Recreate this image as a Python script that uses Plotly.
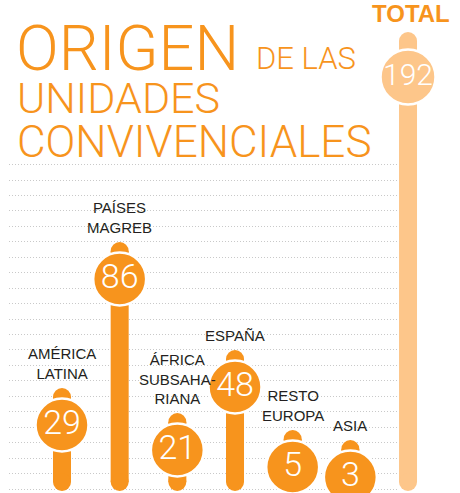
import plotly.graph_objects as go

# ---------------- data ----------------
categories = ["AMÉRICA<br>LATINA", "PAÍSES<br>MAGREB", "ÁFRICA<br>SUBSAHA-<br>RIANA",
              "ESPAÑA", "RESTO<br>EUROPA", "ASIA", "TOTAL"]
values = [29, 86, 21, 48, 5, 3, 192]
# stem heights as drawn in the infographic (chart units, not proportional to values)
stem_heights = [102, 248, 77, 140, 60, 50, 458]

# ---------------- styles ----------------
W, H = 460, 493
ORANGE = "#F7941D"
LIGHT = "#FDC68A"
TEXT = "#231F20"
colors = [ORANGE] * 6 + [LIGHT]
CAP_R = 9            # half stem width (px)
BASE = 8             # centre of bottom cap above baseline
circle_offset = [37] * 6 + [45]
circle_size = [53] * 6 + [55]
num_size = [34] * 6 + [30]

def px(x):
    return x / W

def py(y):
    return 1 - y / H

fig = go.Figure()

# subplot 1: dotted background grid only
fig.add_trace(go.Scatter(x=[0], y=[0], mode="markers", marker=dict(opacity=0),
                         hoverinfo="skip", showlegend=False, xaxis="x", yaxis="y"))

# subplot 2: stems, caps, circles
fig.add_trace(go.Bar(
    x=categories, y=[h - CAP_R - BASE for h in stem_heights], base=BASE,
    width=0.312, marker=dict(color=colors, line=dict(width=0)),
    hoverinfo="skip", showlegend=False, xaxis="x2", yaxis="y2"))

fig.add_trace(go.Scatter(
    x=categories + categories,
    y=[h - CAP_R for h in stem_heights] + [BASE] * len(stem_heights),
    mode="markers", marker=dict(size=2 * CAP_R, color=colors + colors, opacity=1,
                                line=dict(width=0)),
    hoverinfo="skip", showlegend=False, xaxis="x2", yaxis="y2"))

fig.add_trace(go.Scatter(
    x=categories, y=[h - o for h, o in zip(stem_heights, circle_offset)],
    mode="markers+text", text=[str(v) for v in values], textposition="middle center",
    textfont=dict(family="Roboto", size=num_size, color="white", weight=300),
    marker=dict(size=circle_size, color=colors, opacity=1,
                line=dict(color="white", width=2.5)),
    hoverinfo="skip", showlegend=False, xaxis="x2", yaxis="y2"))

annotations = []
# category labels above the stems
for cat, h in zip(categories[:-1], stem_heights[:-1]):
    annotations.append(dict(
        x=cat, y=h, xref="x2", yref="y2", text=cat, showarrow=False,
        xanchor="center", yanchor="bottom", yshift=4, align="center",
        font=dict(family="Liberation Sans, Arial", size=15, color=TEXT)))
annotations.append(dict(
    x=categories[-1], y=stem_heights[-1], xref="x2", yref="y2", text="TOTAL",
    showarrow=False, xanchor="center", yanchor="bottom", yshift=3, xshift=3,
    font=dict(family="Liberation Sans, Arial", size=24, color=ORANGE, weight="bold")))

# title
title_font = "Roboto"
for txt, x, y, size in [("ORIGEN", 14, 48, 63), ("DE LAS", 254, 59, 31),
                        ("UNIDADES", 15, 98, 43), ("CONVIVENCIALES", 15, 142, 44)]:
    annotations.append(dict(
        x=px(x), y=py(y), xref="paper", yref="paper", text=txt, showarrow=False,
        xanchor="left", yanchor="middle",
        font=dict(family=title_font, size=size, color=ORANGE, weight=300)))

# grid positions (every ~15.45 px above baseline, below the title block)
grid_vals = [1 + 15.45 * k for k in range(22)]
spacing = 57.67
xr = [-62 / spacing, (W - 62) / spacing]

fig.update_layout(
    width=W, height=H, margin=dict(l=0, r=0, t=0, b=0),
    paper_bgcolor="white", plot_bgcolor="rgba(0,0,0,0)",
    barmode="overlay", showlegend=False,
    annotations=annotations,
    xaxis=dict(domain=[px(9), px(399)], range=[0, 1], visible=False, fixedrange=True),
    yaxis=dict(domain=[0, 1], range=[-3, 490], tickvals=grid_vals, showticklabels=False,
               showgrid=True, griddash="1px,2px", gridcolor="#c9c9c9", gridwidth=1,
               zeroline=False, showline=False, ticks="", fixedrange=True),
    xaxis2=dict(domain=[0, 1], anchor="y2", type="category",
                categoryorder="array", categoryarray=categories,
                range=xr, visible=False, fixedrange=True),
    yaxis2=dict(domain=[0, 1], anchor="x2", range=[-3, 490], visible=False,
                showgrid=False, fixedrange=True),
)

fig.write_html("out.html", config={"displayModeBar": False},
               post_script="document.body.style.margin='0';document.body.style.padding='0';"
                           "document.body.style.overflow='hidden';")
